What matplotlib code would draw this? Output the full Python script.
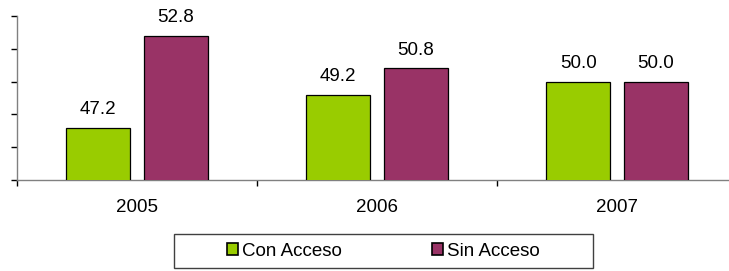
import numpy as np
import matplotlib
matplotlib.use("Agg")
import matplotlib.pyplot as plt
from matplotlib.patches import Rectangle, Patch

years = ['2005', '2006', '2007']
con_acceso = [47.2, 49.2, 50.0]
sin_acceso = [52.8, 50.8, 50.0]
series_names = ['Con Acceso', 'Sin Acceso']

plt.rcParams['font.family'] = ['Liberation Sans', 'DejaVu Sans']
fs = 13.5
green = '#99CC00'
purple = '#993366'
gray = '#808080'

W, H = 729, 271
fig = plt.figure(figsize=(W/100, H/100), dpi=100)
# axes placed in pixel terms (axis runs off the right edge like the original)
ax = fig.add_axes([17/W, (H-180)/H, 720/W, 164/H])

x = np.arange(len(years)) + 0.5
w = 0.269
off = 0.162
ax.bar(x - off, con_acceso, width=w, color=green, edgecolor='black', linewidth=0.9, zorder=3)
ax.bar(x + off, sin_acceso, width=w, color=purple, edgecolor='black', linewidth=0.9, zorder=3)

for xi, v in zip(x - off, con_acceso):
    ax.annotate(f"{v:.1f}", (xi, v), xytext=(0, 10), textcoords='offset points',
                ha='center', va='baseline', fontsize=fs)
for xi, v in zip(x + off, sin_acceso):
    ax.annotate(f"{v:.1f}", (xi, v), xytext=(0, 10), textcoords='offset points',
                ha='center', va='baseline', fontsize=fs)

ax.set_ylim(44, 54)
ax.set_xlim(0, 3)
ax.set_yticks(np.arange(44, 55, 2))
ax.set_yticklabels([])
ax.set_xticks([0, 1, 2, 3])
ax.set_xticklabels([])
ax.set_xticks(x, minor=True)
ax.set_xticklabels(years, minor=True, fontsize=fs)
ax.tick_params(axis='x', which='minor', length=0, pad=14)
ax.tick_params(axis='both', which='major', length=4, width=1, color='black')

for s in ['top', 'right']:
    ax.spines[s].set_visible(False)
ax.spines['left'].set_color(gray)
ax.spines['bottom'].set_color(gray)
ax.spines['left'].set_linewidth(1)
ax.spines['bottom'].set_linewidth(1)

# legend box
fig.add_artist(Rectangle((174/W, 3/H), 419/W, 34/H, transform=fig.transFigure,
                         facecolor='white', edgecolor='#404040', linewidth=1, zorder=1))
handles = [Patch(facecolor=green, edgecolor='black', linewidth=1.2),
           Patch(facecolor=purple, edgecolor='black', linewidth=1.2)]
leg = fig.legend(handles, series_names, loc='center', bbox_to_anchor=(383.5/W, (H-251)/H),
                 ncol=2, frameon=False, fontsize=fs, handlelength=0.6, handleheight=0.6,
                 handletextpad=0.2, columnspacing=4.8, borderpad=0)
leg.set_zorder(5)

fig.savefig('out.png', dpi=100)
